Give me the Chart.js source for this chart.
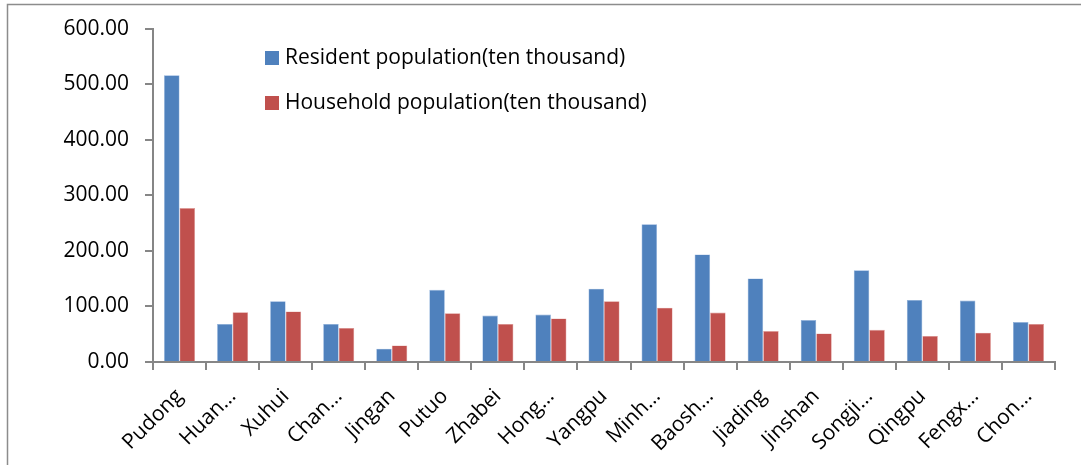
<!DOCTYPE html>
<html>
<head>
<meta charset="utf-8">
<script src="https://cdn.jsdelivr.net/npm/chart.js@4/dist/chart.umd.min.js"></script>
<style>
  html, body { margin: 0; padding: 0; background: #fff; }
  #wrap { width: 1081px; height: 465px; }
</style>
</head>
<body>
<div id="wrap"><canvas id="c" width="1081" height="465"></canvas></div>
<script>
const categories = ["Pudong", "Huan…", "Xuhui", "Chan…", "Jingan", "Putuo", "Zhabei", "Hong…", "Yangpu", "Minh…", "Baosh…", "Jiading", "Jinshan", "Songji…", "Qingpu", "Fengx…", "Chon…"];
const residentPop = [516, 68.4, 109.3, 68.4, 24, 129.8, 83.6, 85.4, 132, 248, 193.6, 150.3, 75.4, 165, 111.7, 110.5, 71.9];
const householdPop = [277, 89.5, 91, 61.4, 29.8, 87.7, 68.4, 78.4, 109.3, 97.7, 89, 55.6, 51.5, 57.9, 46.8, 52.6, 68.4];
const seriesNames = ["Resident population(ten thousand)", "Household population(ten thousand)"];
const yTickValues = [0, 100, 200, 300, 400, 500, 600];

const FONT = "'Open Sans', 'Noto Sans', sans-serif";
const AXIS_GRAY = '#868686';

const insideLegend = {
  id: 'insideLegend',
  afterDraw(chart) {
    const ctx = chart.ctx;
    ctx.save();
    ctx.font = '21px ' + FONT;
    ctx.textBaseline = 'middle';
    ctx.textAlign = 'left';
    const rows = [58, 103];
    chart.data.datasets.forEach((ds, i) => {
      const cy = rows[i];
      ctx.fillStyle = ds.backgroundColor;
      ctx.fillRect(265, cy - 7, 14, 14);
      ctx.fillStyle = '#000';
      ctx.fillText(ds.label, 285, cy);
    });
    ctx.restore();
  }
};

const outerBorder = {
  id: 'outerBorder',
  afterDraw(chart) {
    const ctx = chart.ctx;
    ctx.save();
    ctx.strokeStyle = '#8c8c8c';
    ctx.lineWidth = 1.5;
    ctx.strokeRect(7.5, 4.5, 1100, 480);
    ctx.restore();
  }
};

new Chart(document.getElementById('c'), {
  type: 'bar',
  data: {
    labels: categories,
    datasets: [
      { label: seriesNames[0], data: residentPop, backgroundColor: '#4F81BD', borderColor: '#8fb0dc', borderWidth: 0.6 },
      { label: seriesNames[1], data: householdPop, backgroundColor: '#C0504D', borderColor: '#e09a98', borderWidth: 0.6 }
    ]
  },
  options: {
    responsive: false,
    animation: false,
    layout: { padding: { left: 0, top: 20, right: 26, bottom: 0 } },
    plugins: {
      legend: { display: false },
      tooltip: { enabled: false }
    },
    datasets: { bar: { categoryPercentage: 0.585, barPercentage: 1 } },
    scales: {
      x: {
        grid: { offset: true, drawOnChartArea: false, drawTicks: true, tickLength: 8, color: AXIS_GRAY, lineWidth: 2 },
        border: { display: true, color: AXIS_GRAY, width: 2 },
        ticks: {
          autoSkip: false, maxRotation: 45, minRotation: 45, padding: 14,
          color: '#000', font: { family: FONT, size: 21 }
        },
        afterFit(scale) { scale.height = 103; }
      },
      y: {
        min: 0, max: 600,
        afterBuildTicks(scale) { scale.ticks = yTickValues.map(v => ({ value: v })); },
        grid: { drawOnChartArea: false, drawTicks: true, tickLength: 8, color: AXIS_GRAY, lineWidth: 2 },
        border: { display: true, color: AXIS_GRAY, width: 2 },
        ticks: {
          padding: 16, color: '#000', font: { family: FONT, size: 21 },
          callback: v => Number(v).toFixed(2)
        },
        afterFit(scale) { scale.width = 153; }
      }
    }
  },
  plugins: [insideLegend, outerBorder]
});
</script>
</body>
</html>
